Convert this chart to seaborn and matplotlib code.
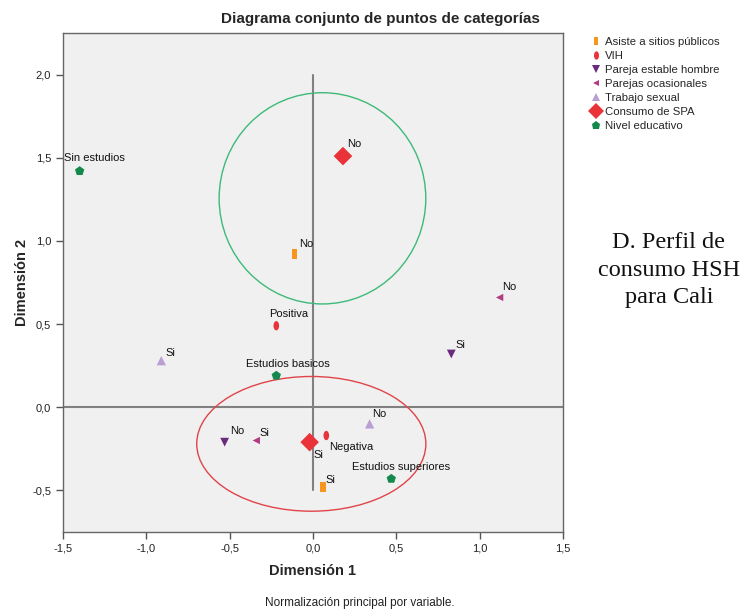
import numpy as np
import pandas as pd
import matplotlib.pyplot as plt
import seaborn as sns
from matplotlib.lines import Line2D
from matplotlib.patches import Ellipse
from matplotlib.ticker import FuncFormatter

VARIABLES = [
    "Asiste a sitios públicos",
    "VIH",
    "Pareja estable hombre",
    "Parejas ocasionales",
    "Trabajo sexual",
    "Consumo de SPA",
    "Nivel educativo",
]

point_var = [
    "Asiste a sitios públicos", "Asiste a sitios públicos",
    "VIH", "VIH",
    "Pareja estable hombre", "Pareja estable hombre",
    "Parejas ocasionales", "Parejas ocasionales",
    "Trabajo sexual", "Trabajo sexual",
    "Consumo de SPA", "Consumo de SPA",
    "Nivel educativo", "Nivel educativo", "Nivel educativo",
]
point_label = [
    "No", "Si",
    "Positiva", "Negativa",
    "Si", "No",
    "No", "Si",
    "Si", "No",
    "No", "Si",
    "Sin estudios", "Estudios basicos", "Estudios superiores",
]
dim1 = [-0.11, 0.06, -0.22, 0.08, 0.83, -0.53, 1.12, -0.34, -0.91, 0.34, 0.18, -0.02, -1.40, -0.22, 0.47]
dim2 = [0.92, -0.48, 0.49, -0.17, 0.32, -0.21, 0.66, -0.20, 0.28, -0.10, 1.51, -0.21, 1.42, 0.19, -0.43]

# label offsets in pixels (dx, dy) relative to the point
label_dx = [4, 3, -7, 3, 4, 5, 3, 3, 4, 2, 4, 4, -16, -30, -39]
label_dy = [10, 7, 12, -11, 9, 11, 10, 8, 8, 10, 12, -13, 13, 12, 12]

bar_marker = [(-0.55, -1), (0.55, -1), (0.55, 1), (-0.55, 1), (-0.55, -1)]
t = np.linspace(0, 2 * np.pi, 30)
oval_marker = list(zip(0.6 * np.cos(t), np.sin(t)))

COLORS = {
    "Asiste a sitios públicos": "#f7961e",
    "VIH": "#e8333b",
    "Pareja estable hombre": "#6b2a7e",
    "Parejas ocasionales": "#b23c82",
    "Trabajo sexual": "#b8a0d4",
    "Consumo de SPA": "#ea3339",
    "Nivel educativo": "#138a4c",
}
MARKERS = {
    "Asiste a sitios públicos": bar_marker,
    "VIH": oval_marker,
    "Pareja estable hombre": "v",
    "Parejas ocasionales": "<",
    "Trabajo sexual": "^",
    "Consumo de SPA": "D",
    "Nivel educativo": "p",
}
SIZES = {
    "Asiste a sitios públicos": 50,
    "VIH": 45,
    "Pareja estable hombre": 40,
    "Parejas ocasionales": 28,
    "Trabajo sexual": 45,
    "Consumo de SPA": 90,
    "Nivel educativo": 50,
}

df = pd.DataFrame({"var": point_var, "label": point_label, "d1": dim1, "d2": dim2})

sns.set_theme(style="white")
plt.rcParams["font.family"] = ["Liberation Sans", "DejaVu Sans"]

fig = plt.figure(figsize=(7.48, 6.11), dpi=100)
ax = fig.add_axes([0.0842, 0.1293, 0.6684, 0.8167])
ax.set_facecolor("#f0f0f0")

# reference lines
ax.axhline(0, color="#808080", lw=1.5, zorder=1)
ax.plot([0, 0], [-0.5, 2.0], color="#808080", lw=1.5, zorder=1)

# highlighted groups
ax.add_patch(Ellipse((0.057, 1.256), 1.24, 1.27, fill=False, ec="#3dba78", lw=1.0, zorder=1.5))
ax.add_patch(Ellipse((-0.01, -0.22), 1.375, 0.81, fill=False, ec="#e0444a", lw=1.0, zorder=1.5))

sns.scatterplot(
    data=df, x="d1", y="d2", hue="var", style="var", size="var",
    palette=COLORS, markers=MARKERS, sizes=SIZES,
    hue_order=VARIABLES, style_order=VARIABLES, size_order=VARIABLES,
    edgecolor="none", linewidth=0, legend=False, ax=ax, zorder=3,
)

for i in range(len(df)):
    ax.annotate(point_label[i], (dim1[i], dim2[i]),
                xytext=(label_dx[i], label_dy[i]), textcoords="offset pixels",
                fontsize=8, color="#111111", va="center", ha="left", zorder=4)

ax.set_xlim(-1.5, 1.5)
ax.set_ylim(-0.75, 2.25)
ax.set_xticks(np.arange(-1.5, 1.51, 0.5))
ax.set_yticks(np.arange(-0.5, 2.01, 0.5))
fmt = FuncFormatter(lambda v, p: f"{v:.1f}".replace(".", ","))
ax.xaxis.set_major_formatter(fmt)
ax.yaxis.set_major_formatter(fmt)
ax.tick_params(axis="both", direction="out", length=5, width=1, color="#555555",
               labelsize=8, labelcolor="#222222", bottom=True, left=True)
for s in ax.spines.values():
    s.set_color("#666666")
    s.set_linewidth(1.0)

ax.set_xlabel("Dimensión 1", fontsize=10.5, fontweight="bold")
ax.set_ylabel("Dimensión 2", fontsize=10.5, fontweight="bold")
ax.xaxis.set_label_coords(0.5, -(571 - 532) / 499, transform=ax.transAxes)
ax.yaxis.set_label_coords(-(63 - 22) / 500, 0.5, transform=ax.transAxes)
ax.xaxis.label.set_va("center")
ax.yaxis.label.set_va("center")

fig.text(380 / 748, 1 - 19 / 611, "Diagrama conjunto de puntos de categorías",
         ha="center", va="center", fontsize=11, fontweight="bold")
fig.text(360 / 748, 1 - 603 / 611, "Normalización principal por variable.",
         ha="center", va="center", fontsize=8.5, color="#222222")
fig.text(669 / 748, 1 - 270 / 611, "D. Perfil de\nconsumo HSH\npara Cali",
         ha="center", va="center", fontsize=17.5, linespacing=1.38,
         family=["Liberation Serif", "DejaVu Serif"], color="#111111")

handles = [
    Line2D([], [], ls="none", marker=MARKERS[v], color=COLORS[v], markeredgewidth=0,
           markersize=np.sqrt(SIZES[v]) * 0.9)
    for v in VARIABLES
]
fig.legend(handles, VARIABLES, loc="upper left", bbox_to_anchor=(586 / 748, 1 - 31 / 611),
           frameon=False, fontsize=8.2, handlelength=0.8, handletextpad=0.4,
           labelspacing=0.36, borderpad=0)

fig.savefig("out.png", dpi=100)
plt.close(fig)
